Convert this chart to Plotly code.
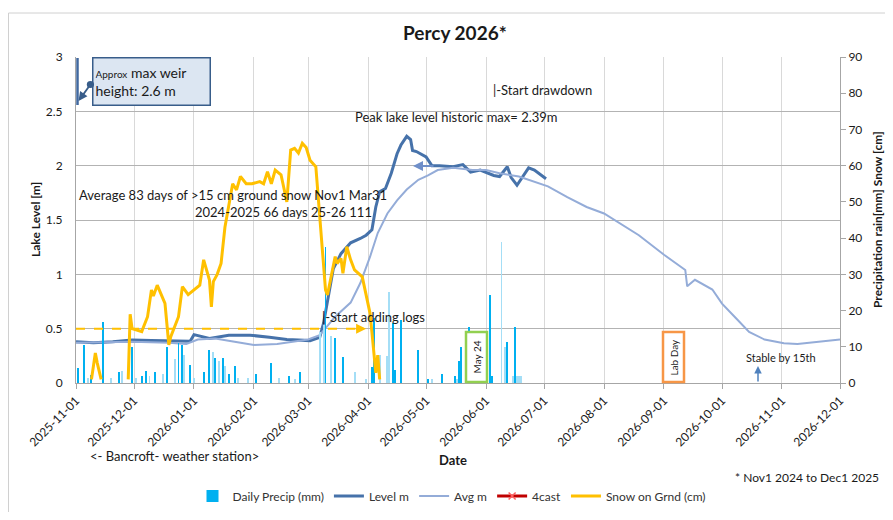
import plotly.graph_objects as go

# ---------------- data ----------------
level_dates = ["2025-11-01","2025-11-10","2025-11-20","2025-11-30","2025-12-10","2025-12-19","2025-12-30",
               "2026-01-01","2026-01-09","2026-01-19","2026-01-30","2026-02-09","2026-02-18","2026-03-02",
               "2026-03-07","2026-03-09","2026-03-11","2026-03-14","2026-03-18","2026-03-23","2026-03-28",
               "2026-03-31","2026-04-03","2026-04-05","2026-04-07","2026-04-10","2026-04-13","2026-04-16",
               "2026-04-18","2026-04-21","2026-04-23","2026-04-24","2026-04-26","2026-04-29","2026-05-01",
               "2026-05-04","2026-05-08","2026-05-15","2026-05-20","2026-05-24","2026-05-29","2026-06-05",
               "2026-06-08","2026-06-12","2026-06-14","2026-06-17","2026-06-20","2026-06-23","2026-06-26",
               "2026-07-02"]
level_m = [0.38,0.37,0.38,0.395,0.39,0.39,0.385,
           0.445,0.41,0.44,0.44,0.42,0.40,0.39,
           0.42,0.55,0.76,1.05,1.19,1.29,1.33,
           1.36,1.41,1.62,1.76,1.79,1.93,2.11,
           2.19,2.27,2.24,2.14,2.13,2.10,2.08,
           2.00,2.00,1.99,2.01,1.94,1.96,1.91,
           1.90,1.99,1.89,1.82,1.90,1.98,1.96,
           1.88]

avg_dates = ["2025-11-01","2025-11-15","2025-11-30","2025-12-19","2025-12-28","2026-01-03","2026-01-12",
             "2026-01-22","2026-02-01","2026-02-13","2026-02-22","2026-03-01","2026-03-07","2026-03-15",
             "2026-03-23","2026-03-28","2026-04-02","2026-04-06","2026-04-11","2026-04-16","2026-04-21",
             "2026-04-27","2026-05-02","2026-05-07","2026-05-15","2026-05-25","2026-06-01","2026-06-08",
             "2026-06-18","2026-06-26","2026-07-03","2026-07-13","2026-07-23","2026-08-01","2026-08-19",
             "2026-09-01","2026-09-12","2026-09-13","2026-09-17","2026-09-26","2026-10-01","2026-10-08",
             "2026-10-15","2026-10-23","2026-11-02","2026-11-09","2026-11-20","2026-12-01"]
avg_m = [0.37,0.375,0.38,0.37,0.36,0.40,0.41,
         0.38,0.35,0.36,0.38,0.40,0.44,0.61,
         0.74,0.92,1.16,1.38,1.56,1.68,1.78,
         1.87,1.91,1.96,1.98,1.96,1.96,1.93,
         1.90,1.85,1.81,1.71,1.62,1.56,1.36,
         1.18,1.04,0.89,0.95,0.86,0.73,0.60,
         0.47,0.40,0.365,0.36,0.38,0.40]

snow_dates = ["2025-11-09","2025-11-11","2025-11-12","2025-11-14","2025-11-20",
              "2025-11-28","2025-11-29","2025-11-30","2025-12-03","2025-12-05","2025-12-06","2025-12-08",
              "2025-12-10","2025-12-11","2025-12-13","2025-12-16","2025-12-17","2025-12-19","2025-12-20",
              "2025-12-24","2025-12-26","2025-12-29","2026-01-01","2026-01-04","2026-01-06","2026-01-09",
              "2026-01-10","2026-01-11","2026-01-13","2026-01-15","2026-01-17","2026-01-19","2026-01-21",
              "2026-01-23","2026-01-25","2026-01-28","2026-01-31","2026-02-04","2026-02-06","2026-02-08",
              "2026-02-10","2026-02-12","2026-02-15","2026-02-16","2026-02-18","2026-02-20","2026-02-22",
              "2026-02-24","2026-02-26","2026-02-28","2026-03-02","2026-03-05","2026-03-06","2026-03-08",
              "2026-03-10","2026-03-11","2026-03-13","2026-03-15","2026-03-16","2026-03-18","2026-03-19",
              "2026-03-21","2026-03-23","2026-03-25","2026-03-29","2026-04-01","2026-04-02","2026-04-03",
              "2026-04-05","2026-04-06","2026-04-07"]
snow_cm = [1, 8.3, 5.5, 1, None,
           1, 19, 15, 14.6, 14.2, 15.6, 18.3,
           25.7, 24, 27, 23.5, 22, 10.5, 12.8,
           18.3, 26.6, 24.4, 25.7, 27, 34, 28.4,
           21, 28, 30, 33, 43, 48.7, 55,
           53.3, 57, 55, 55, 55.6, 55, 58.3,
           55, 58.8, 57.5, 55, 50, 64.3, 64.8,
           63.5, 66.2, 65, 61.5, 59.7, 53.3, 39.5,
           25.7, 24.3, 29.3, 34.9, 33, 34.4, 30.3,
           37.6, 34, 31.2, 29.3, 22, 19.3, 14,
           2.8, 7.7, 1]

precip_dates = ["2025-11-02","2025-11-05","2025-11-07","2025-11-09","2025-11-15","2025-11-19","2025-11-23",
                "2025-11-25","2025-11-30","2025-12-02","2025-12-05","2025-12-07","2025-12-09","2025-12-12",
                "2025-12-16","2025-12-18","2025-12-22","2025-12-24","2025-12-26","2025-12-27","2025-12-30",
                "2026-01-01","2026-01-06","2026-01-09","2026-01-11","2026-01-12","2026-01-14","2026-01-16",
                "2026-01-17","2026-01-19","2026-01-22","2026-01-24","2026-01-29","2026-02-02","2026-02-10",
                "2026-02-14","2026-02-19","2026-02-22","2026-02-25","2026-03-07","2026-03-09","2026-03-10",
                "2026-03-13","2026-03-15","2026-03-19","2026-03-25","2026-03-31","2026-04-03","2026-04-04",
                "2026-04-07","2026-04-11","2026-04-12","2026-04-14","2026-04-15","2026-04-18","2026-04-27",
                "2026-05-02","2026-05-04","2026-05-09","2026-05-16","2026-05-17","2026-05-18","2026-05-19",
                "2026-05-23","2026-06-03","2026-06-04","2026-06-09","2026-06-11","2026-06-12","2026-06-15",
                "2026-06-16","2026-06-17","2026-06-18","2026-06-19"]
precip_mm = [4.2, 10.5, 1.5, 2.3, 16.9, 1.5, 3.0,
             3.3, 10.0, 1.5, 2.0, 3.3, 2.0, 3.0,
             2.5, 10.0, 6.6, 11.0, 10.4, 7.7, 5.0,
             1.5, 3.0, 9.0, 8.6, 7.0, 6.0, 7.0,
             4.7, 2.5, 4.7, 1.5, 1.5, 2.6, 5.6,
             1.5, 2.0, 1.0, 3.0, 14.0, 16.0, 37.6,
             13.0, 12.4, 7.3, 3.0, 1.0, 4.5, 17.9,
             7.7, 7.5, 25.2, 16.5, 3.5, 17.4, 9.0,
             1.0, 1.0, 2.5, 2.0, 1.0, 6.0, 10.0,
             15.5, 24.3, 2.0, 39.0, 10.0, 11.4, 2.0,
             15.5, 2.0, 2.0, 2.0]
precip_light = [0,0,1,0,0,1,0,
                1,0,1,0,0,1,0,
                1,0,1,0,0,1,0,
                1,0,0,1,0,1,0,
                1,0,0,1,1,0,0,
                1,0,1,0,1,1,0,
                1,0,0,1,1,0,0,
                1,1,1,0,0,0,0,
                0,1,0,0,1,0,0,
                0,0,0,1,1,0,1,
                0,1,1,1]

month_ticks = ["2025-11-01","2025-12-01","2026-01-01","2026-02-01","2026-03-01","2026-04-01","2026-05-01",
               "2026-06-01","2026-07-01","2026-08-01","2026-09-01","2026-10-01","2026-11-01","2026-12-01"]

snow_threshold_cm = 15
threshold_start, threshold_end = "2025-11-01", "2026-03-31"

# ---------------- styling ----------------
FONT = "Lato, 'Noto Sans', sans-serif"
TXT = "#1a1a1a"
OFF = 8                      # page body margin
W, H = 893 - 2 * OFF, 520 - 2 * OFF
X0, X1, Y0, Y1 = 76, 840, 57, 383   # plot area in screen pixels
L, T = X0 - OFF, Y0 - OFF
R, B = W - (X1 - OFF), H - (Y1 - OFF)
PW, PH = X1 - X0, Y1 - Y0

def px(x):
    return (x - X0) / PW

def py(y):
    return (Y1 - y) / PH

fig = go.Figure()

fig.add_trace(go.Bar(
    x=precip_dates, y=precip_mm, yaxis="y2", name="Daily Precip (mm)",
    width=0.5 * 86400000,
    marker=dict(color=["#a4def6" if f else "#00b0f0" for f in precip_light], line=dict(width=0)),
    legendrank=1,
))
fig.add_trace(go.Scatter(x=level_dates, y=level_m, mode="lines", name="Level m",
                         line=dict(color="#4672aa", width=3), legendrank=2))
fig.add_trace(go.Scatter(x=avg_dates, y=avg_m, mode="lines", name="Avg m",
                         line=dict(color="#94acd8", width=2), legendrank=3))
fig.add_trace(go.Scatter(x=[None], y=[None], mode="lines+markers", name="4cast",
                         line=dict(color="#c00000", width=3),
                         marker=dict(symbol="x-thin", size=7, line=dict(color="#ff6060", width=1.5)),
                         legendrank=4))
fig.add_trace(go.Scatter(x=snow_dates, y=snow_cm, yaxis="y2", mode="lines", name="Snow on Grnd (cm)",
                         line=dict(color="#ffc000", width=3), connectgaps=False, legendrank=5))

fig.update_layout(
    width=W, height=H,
    margin=dict(l=L, r=R, t=T, b=B, autoexpand=False),
    paper_bgcolor="white", plot_bgcolor="white",
    font=dict(family=FONT, size=12, color=TXT),
    showlegend=True,
    legend=dict(orientation="h", x=px(452), xanchor="center", y=py(496), yanchor="middle",
                font=dict(size=12, color="#333333"), itemwidth=30, traceorder="normal"),
    xaxis=dict(type="date", range=["2025-11-01", "2026-12-01"], tickvals=month_ticks,
               tickformat="%Y-%m-%d", tickangle=-45, tickfont=dict(size=12, color=TXT),
               showgrid=True, gridcolor="#d9d9d9", gridwidth=1,
               showline=True, linecolor="#a6a6a6", ticks="outside", ticklen=5, tickcolor="#a6a6a6",
               zeroline=False, automargin=False),
    yaxis=dict(range=[0, 3], dtick=0.5, tick0=0, showgrid=True, gridcolor="#b3b3b3", gridwidth=1,
               showline=True, linecolor="#a6a6a6", zeroline=False, ticks="", ticklabelstandoff=10,
               tickfont=dict(size=12, color=TXT), automargin=False),
    yaxis2=dict(range=[0, 90], dtick=10, tick0=0, overlaying="y", side="right", showgrid=False,
                showline=True, linecolor="#a6a6a6", ticks="outside", ticklen=5, tickcolor="#a6a6a6",
                zeroline=False, tickfont=dict(size=12, color=TXT), automargin=False),
    bargap=0,
)

shapes = []
# outer chart frame
shapes.append(dict(type="rect", xref="paper", yref="paper", x0=px(8.5), x1=px(905), y0=py(540), y1=py(13),
                   line=dict(color="#d0d0d0", width=1), fillcolor="rgba(0,0,0,0)", layer="below"))
# weir vertical marker
shapes.append(dict(type="line", xref="paper", yref="paper", x0=px(77.5), x1=px(77.5), y0=py(105), y1=py(58),
                   line=dict(color="#41689f", width=2.5)))
# snow threshold dashed line
shapes.append(dict(type="line", xref="x", yref="y2", x0=threshold_start, x1="2026-03-27",
                   y0=snow_threshold_cm, y1=snow_threshold_cm,
                   line=dict(color="#ffc000", width=2, dash="dash")))
# May 24 and Lab Day boxes
shapes.append(dict(type="rect", xref="paper", yref="paper", x0=px(466), x1=px(487), y0=py(382), y1=py(332),
                   line=dict(color="#92d050", width=2.5), fillcolor="white"))
shapes.append(dict(type="rect", xref="paper", yref="paper", x0=px(663), x1=px(684), y0=py(382), y1=py(332),
                   line=dict(color="#f79646", width=2.5), fillcolor="white"))
fig.update_layout(shapes=shapes)

ann = []
def text(x, y, s, size=13, xanchor="left", bold=False, angle=0, color=TXT, family=FONT):
    ann.append(dict(xref="paper", yref="paper", x=px(x), y=py(y), text=("<b>%s</b>" % s) if bold else s,
                    showarrow=False, xanchor=xanchor, yanchor="middle", textangle=angle,
                    font=dict(size=size, color=color, family=family)))

text(455, 32, "Percy 2026*", size=19, xanchor="center", bold=True)
text(35, 220, "Lake Level [m]", size=12, xanchor="center", bold=True, angle=-90)
text(877, 220, "Precipitation rain[mm] Snow [cm]", size=12, xanchor="center", bold=True, angle=-90)
text(491, 90, "|-Start drawdown")
text(353, 117, "Peak lake level historic max= 2.39m")
text(77, 195, "Average 83 days of >15 cm ground snow Nov1 Mar31")
text(193, 212, "2024-2025 66 days 25-26 111")
text(320, 317, "|-Start adding logs")
text(744, 357, "Stable by 15th", size=11)
text(476.5, 357, "May 24", size=10, xanchor="center", angle=-90)
text(673.5, 357, "Lab Day", size=10, xanchor="center", angle=-90)
text(88, 456, "&lt;- Bancroft- weather station&gt;", size=13)
text(453, 460, "Date", size=13, xanchor="center", bold=True)
text(733, 478, "* Nov1 2024 to Dec1 2025", size=12)

# weir callout box
ann.append(dict(xref="paper", yref="paper", x=px(92), y=py(57), xanchor="left", yanchor="top",
                text="<span style='font-size:10px'>Approx</span> max weir<br>height: 2.6 m",
                showarrow=False, align="left", width=112, height=42, valign="middle",
                bgcolor="#dce6f2", bordercolor="#385d8a", borderwidth=1.5, borderpad=2,
                font=dict(size=14, color=TXT, family=FONT)))
# weir arrow
ann.append(dict(xref="paper", yref="paper", x=px(78.5), y=py(101), ax=13, ay=-18, axref="pixel", ayref="pixel",
                text="", showarrow=True, arrowhead=2, arrowsize=1, arrowwidth=1.8, arrowcolor="#385d8a",
                arrowside="end+start", startarrowhead=6, startarrowsize=1))
# arrow near peak
ann.append(dict(xref="paper", yref="paper", x=px(413), y=py(166), ax=22, ay=0,
                text="", showarrow=True, arrowhead=2, arrowsize=1, arrowwidth=2, arrowcolor="#6f8fc9"))
# snow threshold arrowhead
ann.append(dict(xref="x", yref="y2", x=threshold_end, y=snow_threshold_cm, ax=-12, ay=0,
                text="", showarrow=True, arrowhead=2, arrowsize=1, arrowwidth=2, arrowcolor="#ffc000"))
# stable arrow
ann.append(dict(xref="paper", yref="paper", x=px(758), y=py(366), ax=0, ay=17,
                text="", showarrow=True, arrowhead=2, arrowsize=1, arrowwidth=1.5, arrowcolor="#4f81bd"))
fig.update_layout(annotations=ann)

fig.write_html("out.html")
